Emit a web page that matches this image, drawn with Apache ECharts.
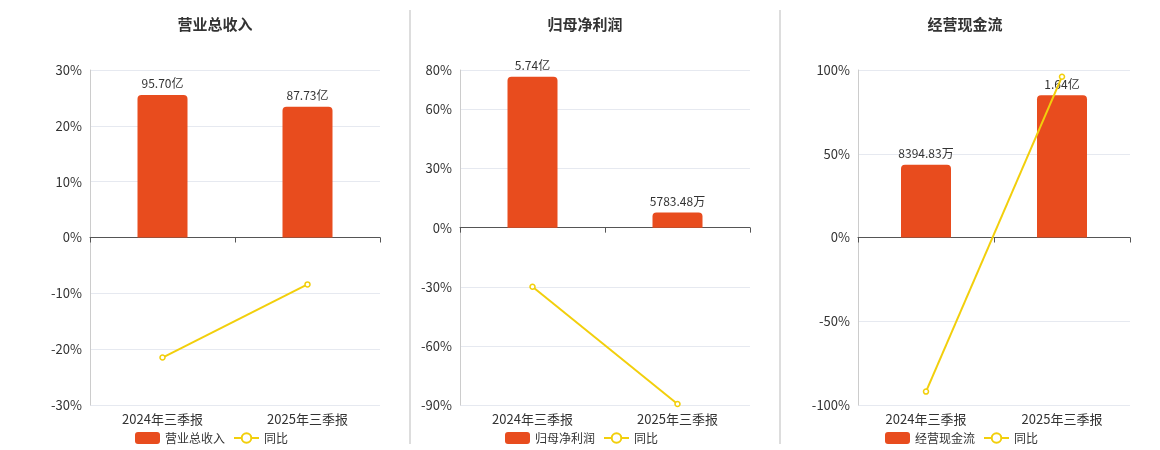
<!DOCTYPE html>
<html><head><meta charset="utf-8">
<script src="https://cdn.jsdelivr.net/npm/echarts@6/dist/echarts.min.js"></script>
<style>html,body{margin:0;padding:0;background:#fff}#c{width:1160px;height:450px}</style>
</head><body><div id="c"></div>
<script>
var categories = ['2024年三季报', '2025年三季报'];
var titles = ['营业总收入', '归母净利润', '经营现金流'];
// bar values in 亿
var revenue = [95.70, 87.73];
var profit = [5.74, 0.578348];
var cashflow = [0.839483, 1.64];
var barLabels = [['95.70亿', '87.73亿'], ['5.74亿', '5783.48万'], ['8394.83万', '1.64亿']];
// 同比 %
var revYoy = [-21.5, -8.4];
var profitYoy = [-30, -89.5];
var cashYoy = [-92, 96];

var barData = [revenue, profit, cashflow];
var yoyData = [revYoy, profitYoy, cashYoy];
var pctAxes = [{min: -30, max: 30, interval: 10}, {min: -90, max: 80, interval: 30}, {min: -100, max: 100, interval: 50}];
var barMax = [112.4, 6.0, 1.93];
var grids = [{left: 90, width: 290}, {left: 460, width: 290}, {left: 858, width: 272}];
var centers = [210, 580, 960];

var myChart = echarts.init(document.getElementById('c'));
var option = {
  textStyle: {fontFamily: 'Noto Sans CJK SC'},
  title: [], grid: [], xAxis: [], yAxis: [], series: [], legend: [],
  graphic: [
    {type: 'line', shape: {x1: 410, y1: 10, x2: 410, y2: 444}, style: {stroke: '#bbb'}},
    {type: 'line', shape: {x1: 780, y1: 10, x2: 780, y2: 444}, style: {stroke: '#bbb'}}
  ]
};
for (var i = 0; i < 3; i++) {
  var p = pctAxes[i];
  option.title.push({text: titles[i], left: centers[i], top: 12, textAlign: 'center',
    textStyle: {fontSize: 15, fontWeight: 'bold', color: '#333'}});
  option.grid.push({left: grids[i].left, width: grids[i].width, top: 70, bottom: 45});
  option.xAxis.push({type: 'category', gridIndex: i, data: categories,
    axisLine: {onZero: true, lineStyle: {color: '#555'}}, axisTick: {show: true},
    axisLabel: {fontSize: 13, color: '#333', margin: 8}});
  option.yAxis.push({type: 'value', gridIndex: i, min: p.min, max: p.max, interval: p.interval,
    axisLine: {show: true, lineStyle: {color: '#ccc'}},
    axisLabel: {formatter: '{value}%', fontSize: 13, color: '#333'},
    splitLine: {lineStyle: {color: '#e6e9f0'}}});
  option.yAxis.push({type: 'value', gridIndex: i, min: barMax[i] * p.min / p.max, max: barMax[i], show: false,
    splitLine: {show: false}});
  var labs = barLabels[i];
  option.series.push({name: titles[i], type: 'bar', xAxisIndex: i, yAxisIndex: 2 * i + 1,
    data: barData[i], barWidth: 50, itemStyle: {color: '#e84c1e', borderRadius: [4, 4, 0, 0]},
    label: {show: true, position: 'top', color: '#333', fontSize: 12,
      formatter: function (l) { return this[l.dataIndex]; }.bind(labs)}});
  option.series.push({name: '同比', type: 'line', xAxisIndex: i, yAxisIndex: 2 * i,
    data: yoyData[i], symbol: 'circle', symbolSize: 5,
    itemStyle: {color: '#fff', borderColor: '#f2cf0c', borderWidth: 1.5},
    lineStyle: {color: '#f2cf0c', width: 2}, z: 5});
  option.legend.push({data: [titles[i], '同比'], left: centers[i] - 80, top: 427,
    itemWidth: 25, itemHeight: 12, textStyle: {fontSize: 12, color: '#333'}});
}
myChart.setOption(option);
</script></body></html>
